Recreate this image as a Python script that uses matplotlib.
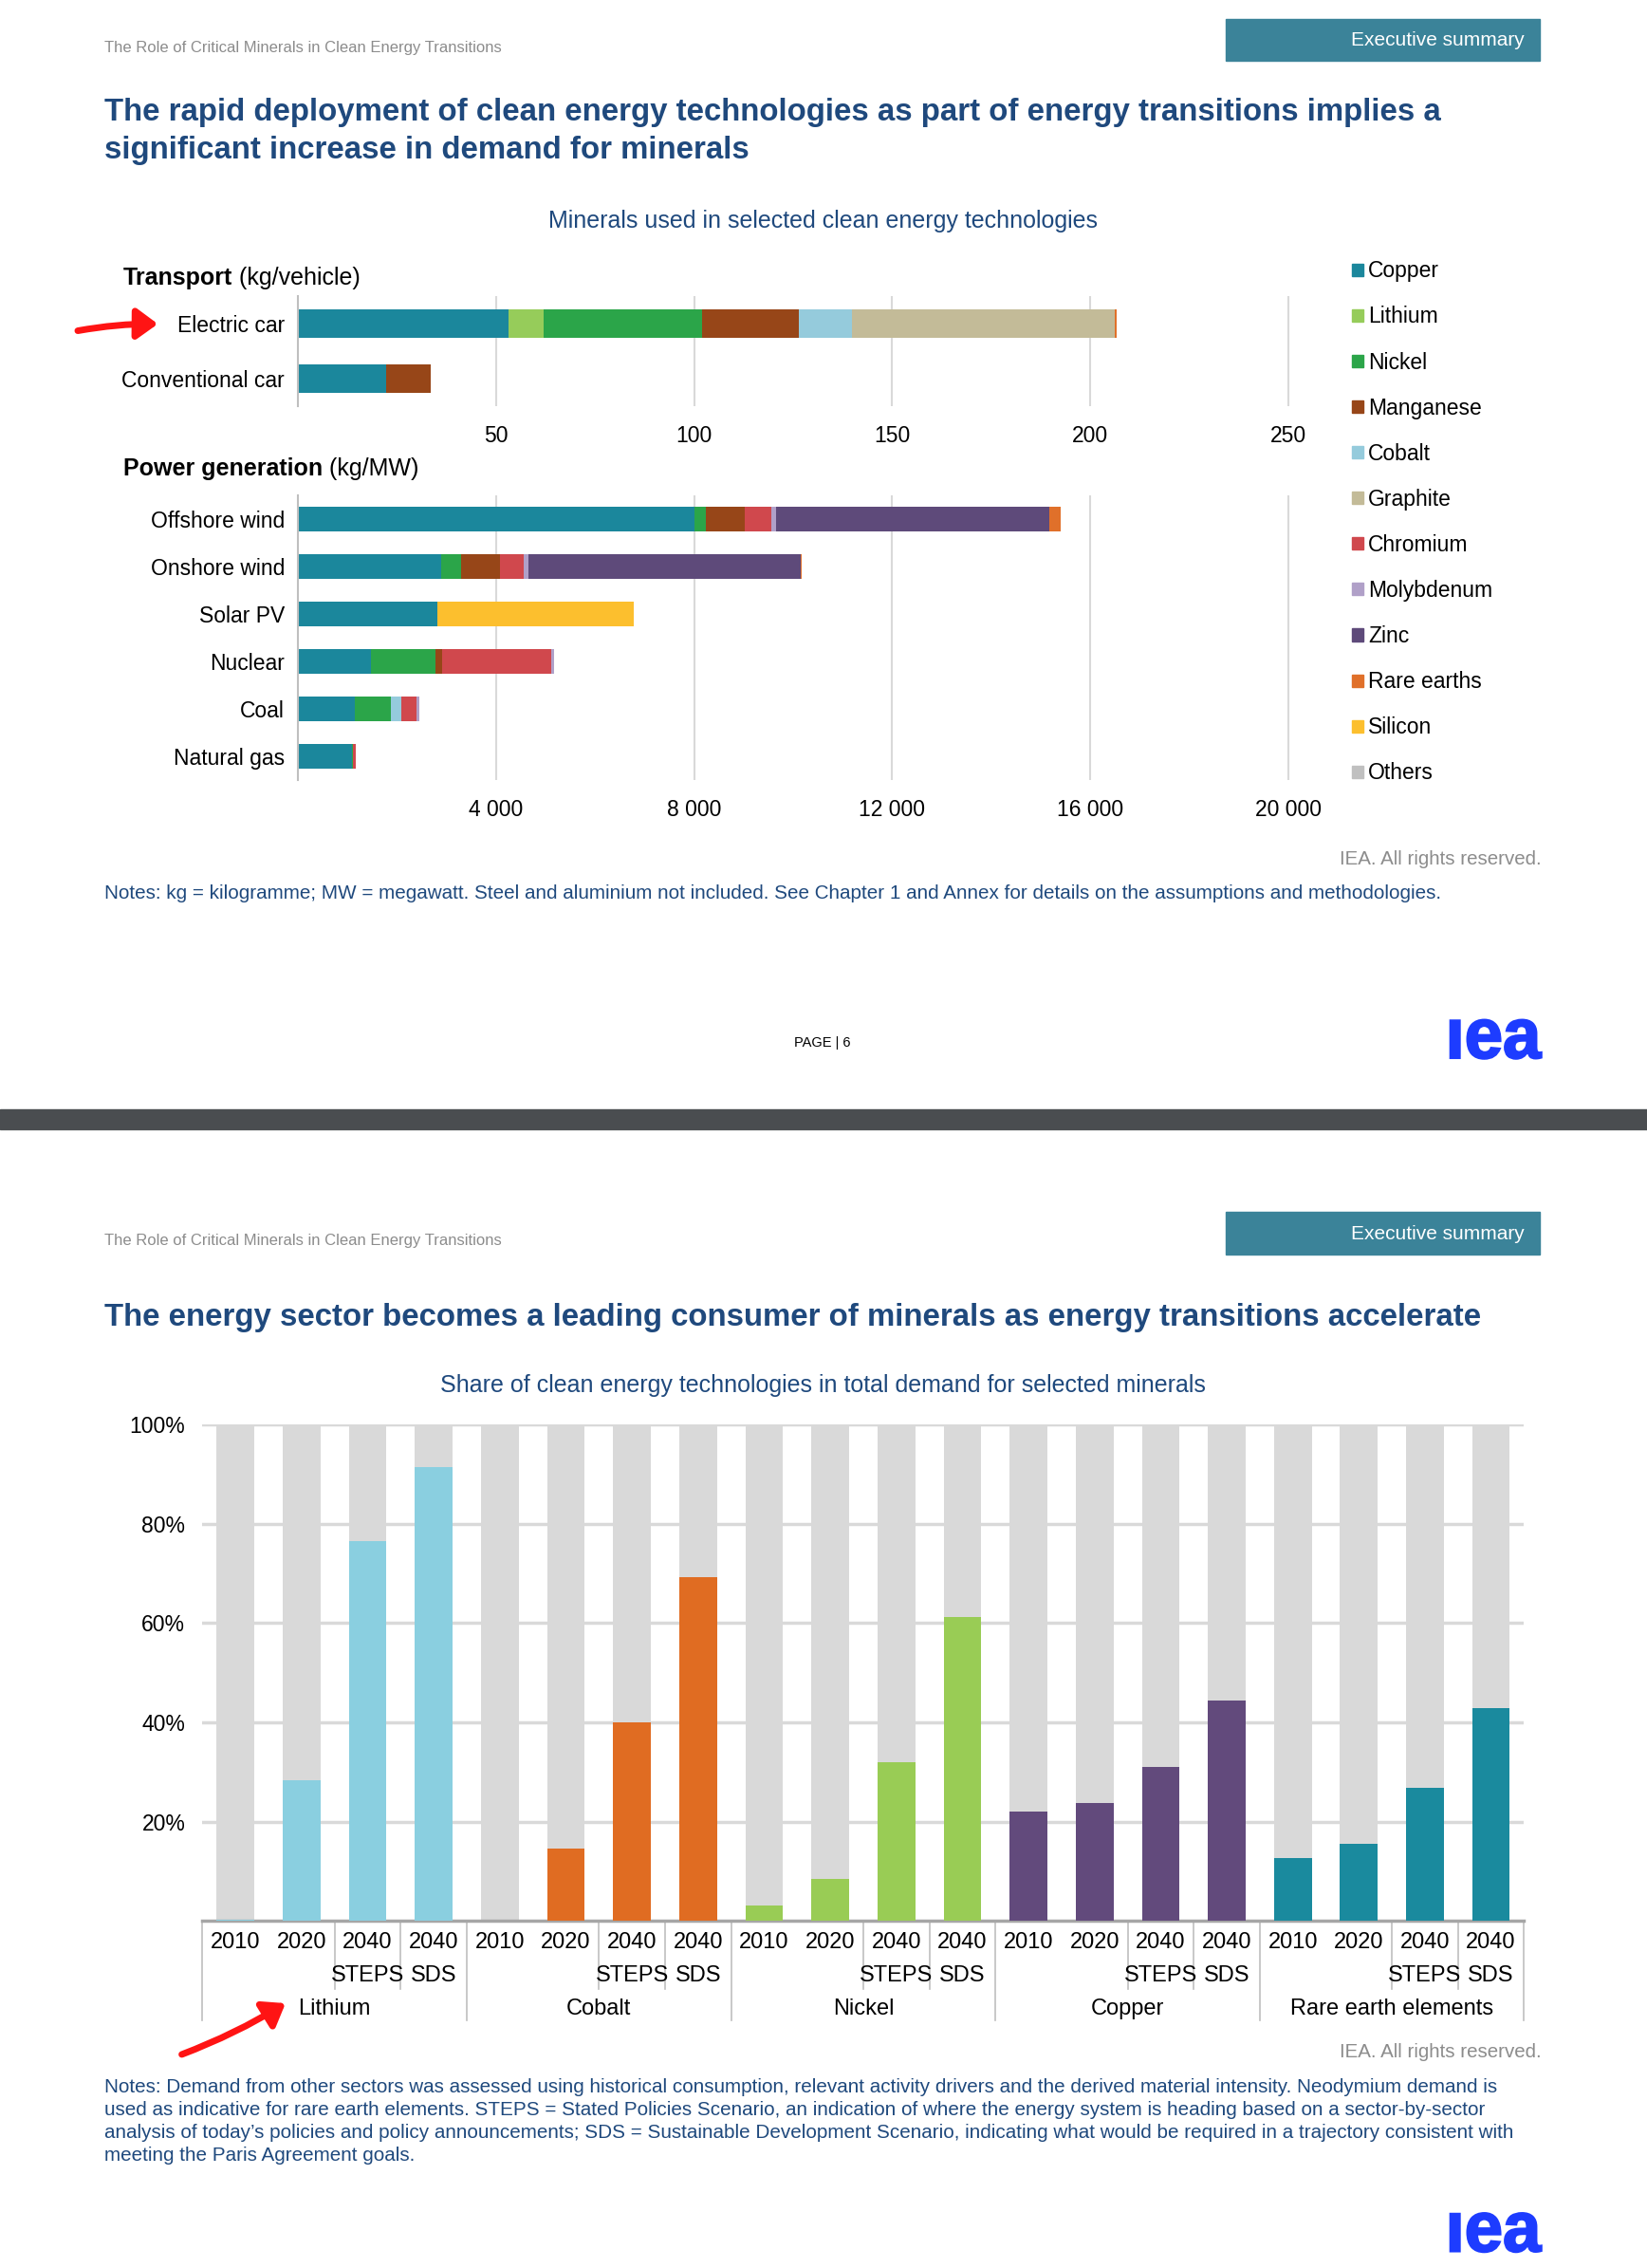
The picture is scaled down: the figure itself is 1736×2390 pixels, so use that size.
import matplotlib
matplotlib.use('Agg')
import matplotlib.pyplot as plt
import numpy as np
from matplotlib.patches import Rectangle, Patch, PathPatch
from matplotlib.ticker import FuncFormatter
from matplotlib.textpath import TextPath
from matplotlib.font_manager import FontProperties
from matplotlib.transforms import Affine2D, IdentityTransform

plt.rcParams['font.family'] = ['Liberation Sans', 'DejaVu Sans']

# layout is measured on the page screenshot (1139 x 1568 units)
W, H = 1139.0, 1568.0

## ---------------- data : page 1 ----------------
minerals = ['Copper', 'Lithium', 'Nickel', 'Manganese', 'Cobalt', 'Graphite',
            'Chromium', 'Molybdenum', 'Zinc', 'Rare earths', 'Silicon', 'Others']
mineral_colors = ['#1b879c', '#96cc5a', '#2ba549', '#974618', '#95cbdc', '#c3bb98',
                  '#d0484d', '#b0a0c8', '#5e4a7a', '#e0702a', '#fcbf2e', '#c0c0c0']

cars = ['Electric car', 'Conventional car']
electric_car = [53.2, 8.9, 39.9, 24.5, 13.3, 66.3, 0, 0, 0, 0.5, 0, 0]
conventional_car = [22.3, 0, 0, 11.2, 0, 0, 0, 0, 0, 0, 0, 0]

plants = ['Offshore wind', 'Onshore wind', 'Solar PV', 'Nuclear', 'Coal', 'Natural gas']
offshore_wind = [8000, 0, 240, 790, 0, 0, 525, 109, 5500, 239, 0, 0]
onshore_wind = [2900, 0, 404, 780, 0, 0, 470, 99, 5500, 14, 0, 0]
solar_pv = [2822, 0, 0, 0, 0, 0, 0, 0, 0, 0, 3955, 0]
nuclear = [1473, 0, 1297, 148, 0, 0, 2190, 70, 0, 0, 0, 0]
coal = [1150, 0, 721, 5, 210, 0, 308, 66, 0, 0, 0, 0]
natural_gas = [1100, 0, 16, 0, 0, 0, 48, 0, 0, 0, 0, 0]

car_ticks = [50, 100, 150, 200, 250]
plant_ticks = [4000, 8000, 12000, 16000, 20000]

## ---------------- data : page 2 ----------------
groups = ['Lithium', 'Cobalt', 'Nickel', 'Copper', 'Rare earth elements']
group_colors = ['#8acfe0', '#e06c22', '#99cc55', '#624a7c', '#1a8a9e']
periods = ['2010', '2020', '2040', '2040']
scenarios = ['', '', 'STEPS', 'SDS']
lithium_share = [0.3, 28.4, 76.5, 91.4]
cobalt_share = [0.0, 14.5, 40.1, 69.3]
nickel_share = [3.0, 8.5, 32.0, 61.3]
copper_share = [22.0, 23.7, 31.0, 44.4]
ree_share = [12.6, 15.5, 26.8, 42.8]
share_ticks = [20, 40, 60, 80, 100]

navy = '#1f497d'
grid_c = '#d9d9d9'

fig = plt.figure(figsize=(17.36, 23.90), dpi=100)
renderer = fig.canvas.get_renderer()
FW = fig.get_figwidth() * fig.dpi
FH = fig.get_figheight() * fig.dpi


def add_ax(x0, y0, x1, y1):
    return fig.add_axes([x0 / W, 1 - y1 / H, (x1 - x0) / W, (y1 - y0) / H])


def ftext(x, y, s, **kw):
    return fig.text(x / W, 1 - y / H, s, **kw)


def rect(x0, y0, x1, y1, color):
    fig.patches.append(Rectangle((x0 / W, 1 - y1 / H), (x1 - x0) / W, (y1 - y0) / H,
                                 transform=fig.transFigure, color=color, zorder=0))


def page_header(y_box, y_txt):
    ftext(72, y_txt, 'The Role of Critical Minerals in Clean Energy Transitions',
          fontsize=12, color='#8c8c8c', va='center')
    rect(848, y_box, 1065, y_box + 29, '#3b8399')
    ftext(1054, y_box + 15, 'Executive summary', fontsize=15, color='white',
          ha='right', va='center')


def iea_logo(x1, y0, y1):
    tp = TextPath((0, 0), '\u0131ea', size=1,
                  prop=FontProperties(family='Liberation Sans', weight='bold'))
    ext = tp.get_extents()
    hpx = (y1 - y0) / H * FH
    wpx = 63 / W * FW
    sx = wpx / ext.width
    sy = hpx / ext.height
    tx = x1 / W * FW - wpx - ext.x0 * sx
    ty = (1 - y1 / H) * FH - ext.y0 * sy
    tr = Affine2D().scale(sx, sy).translate(tx, ty)
    fig.patches.append(PathPatch(tr.transform_path(tp), transform=IdentityTransform(),
                                 color='#1d3cff', lw=1.5))


def two_part(x, y, bold, normal, size=18):
    t = ftext(x, y, bold, fontsize=size, fontweight='bold', va='center')
    bb = t.get_window_extent(renderer)
    fig.text(bb.x1 / FW, 1 - y / H, normal, fontsize=size, va='center')


def hbar_stack(ax, rows, labels, colors):
    data = np.array(rows, dtype=float)
    pos = np.arange(len(labels))
    left = np.zeros(len(labels))
    for i in range(data.shape[1]):
        ax.barh(pos, data[:, i], left=left, height=0.52, color=colors[i], zorder=3)
        left += data[:, i]
    ax.set_yticks(pos)
    ax.set_yticklabels(labels)
    ax.set_ylim(len(labels) - 0.5, -0.5)
    for s in ['top', 'right', 'bottom']:
        ax.spines[s].set_visible(False)
    ax.spines['left'].set_color('#bfbfbf')
    ax.spines['left'].set_linewidth(1.5)
    ax.spines['left'].set_zorder(4)
    ax.grid(axis='x', color=grid_c, lw=1.5, zorder=0)
    ax.set_axisbelow(True)
    ax.tick_params(length=0, labelsize=16.5)
    ax.tick_params(axis='y', pad=10)
    ax.tick_params(axis='x', pad=14)


## ================= page 1 =================
page_header(13, 33)
ftext(72, 78, 'The rapid deployment of clean energy technologies as part of energy transitions implies a',
      fontsize=23.8, fontweight='bold', color=navy, va='center')
ftext(72, 104, 'significant increase in demand for minerals',
      fontsize=23.8, fontweight='bold', color=navy, va='center')
ftext(569, 153, 'Minerals used in selected clean energy technologies',
      fontsize=18, color=navy, ha='center', va='center')

two_part(85, 192, 'Transport', ' (kg/vehicle)')
two_part(85, 324, 'Power generation', ' (kg/MW)')

ax_t = add_ax(206, 205, 904.7, 281)
hbar_stack(ax_t, [electric_car, conventional_car], cars, mineral_colors)
ax_t.set_xlim(0, 255)
ax_t.set_xticks(car_ticks)

ax_p = add_ax(206, 342.6, 904.7, 539.4)
hbar_stack(ax_p, [offshore_wind, onshore_wind, solar_pv, nuclear, coal, natural_gas],
           plants, mineral_colors)
ax_p.set_xlim(0, 20400)
ax_p.set_xticks(plant_ticks)
ax_p.xaxis.set_major_formatter(FuncFormatter(lambda v, p: '{:,.0f}'.format(v).replace(',', ' ')))

handles = [Patch(color=c) for c in mineral_colors]
fig.legend(handles, minerals, loc='upper left', bbox_to_anchor=(935 / W, 1 - 180 / H),
           frameon=False, fontsize=16.5, handlelength=0.5, handleheight=0.5,
           handletextpad=0.25, labelspacing=1.095, borderpad=0, borderaxespad=0)

ftext(1066, 594, 'IEA. All rights reserved.', fontsize=14.8, color='#8c8c8c',
      ha='right', va='center')
ftext(72, 618, 'Notes: kg = kilogramme; MW = megawatt. Steel and aluminium not included. '
      'See Chapter 1 and Annex for details on the assumptions and methodologies.',
      fontsize=14.9, color=navy, va='center')
ftext(569, 721, 'PAGE | 6', fontsize=10.5, color='black', ha='center', va='center')
iea_logo(1066, 705, 732)

# hand drawn arrow next to the electric car
fig.add_artist(matplotlib.patches.FancyArrowPatch(
    (52 / W, 1 - 229 / H), (111 / W, 1 - 224 / H), transform=fig.transFigure,
    arrowstyle='-|>,head_width=0.8,head_length=1.1', mutation_scale=12,
    color='#ff1414', lw=5, connectionstyle='arc3,rad=-0.05'))

# page break band
rect(0, 767, W, 781, '#4a4d50')

## ================= page 2 =================
page_header(838, 858)
ftext(72, 911, 'The energy sector becomes a leading consumer of minerals as energy transitions accelerate',
      fontsize=23.8, fontweight='bold', color=navy, va='center')
ftext(569, 958, 'Share of clean energy technologies in total demand for selected minerals',
      fontsize=18, color=navy, ha='center', va='center')

shares = [lithium_share, cobalt_share, nickel_share, copper_share, ree_share]
ax_s = add_ax(140, 985, 1054, 1328)
ax_s.set_xlim(-0.5, len(groups) * len(periods) - 0.5)
ax_s.set_ylim(0, 100)
for g, vals in enumerate(shares):
    xs = np.arange(len(vals)) + g * len(periods)
    ax_s.bar(xs, [100] * len(vals), width=0.57, color=grid_c, zorder=2)
    ax_s.bar(xs, vals, width=0.57, color=group_colors[g], zorder=3)
ax_s.set_yticks(share_ticks)
ax_s.set_yticklabels(['{}%'.format(v) for v in share_ticks])
ax_s.set_xticks([])
ax_s.grid(axis='y', color=grid_c, lw=2.5, zorder=0)
ax_s.set_axisbelow(True)
for s in ['top', 'right', 'left']:
    ax_s.spines[s].set_visible(False)
ax_s.spines['bottom'].set_color('#a6a6a6')
ax_s.spines['bottom'].set_linewidth(2.5)
ax_s.tick_params(length=0, labelsize=16.5, pad=13)

# multi level category axis
ah = 1328 - 985.0
xtr = ax_s.get_xaxis_transform()
for g, name in enumerate(groups):
    for k in range(len(periods)):
        x = g * len(periods) + k
        ax_s.text(x, -(1343 - 1328) / ah, periods[k], transform=xtr, fontsize=17,
                  ha='center', va='center')
        if scenarios[k]:
            ax_s.text(x, -(1366 - 1328) / ah, scenarios[k], transform=xtr, fontsize=17,
                      ha='center', va='center')
    ax_s.text(g * len(periods) + 1.5, -(1389 - 1328) / ah, name, transform=xtr,
              fontsize=17, ha='center', va='center')
    x0 = g * len(periods) - 0.5
    ax_s.plot([x0, x0], [0, -(1397 - 1328) / ah], transform=xtr, clip_on=False,
              color='#bfbfbf', lw=1.2)
    for k in [2, 3]:
        xi = g * len(periods) + k - 0.5
        ax_s.plot([xi, xi], [0, -(1375 - 1328) / ah], transform=xtr, clip_on=False,
                  color='#bfbfbf', lw=1.2)
xe = len(groups) * len(periods) - 0.5
ax_s.plot([xe, xe], [0, -(1397 - 1328) / ah], transform=xtr, clip_on=False,
          color='#bfbfbf', lw=1.2)

fig.add_artist(matplotlib.patches.FancyArrowPatch(
    (124 / W, 1 - 1421 / H), (199 / W, 1 - 1384 / H), transform=fig.transFigure,
    arrowstyle='-|>,head_width=0.8,head_length=1.1', mutation_scale=12,
    color='#ff1414', lw=5, connectionstyle='arc3,rad=0.05'))

ftext(1066, 1419, 'IEA. All rights reserved.', fontsize=14.8, color='#8c8c8c',
      ha='right', va='center')
notes2 = ['Notes: Demand from other sectors was assessed using historical consumption, relevant activity drivers and the derived material intensity. Neodymium demand is',
          'used as indicative for rare earth elements. STEPS = Stated Policies Scenario, an indication of where the energy system is heading based on a sector-by-sector',
          'analysis of today\u2019s policies and policy announcements; SDS = Sustainable Development Scenario, indicating what would be required in a trajectory consistent with',
          'meeting the Paris Agreement goals.']
for i, line in enumerate(notes2):
    ftext(72, 1443 + i * 15.7, line, fontsize=14.9, color=navy, va='center')
iea_logo(1066, 1530, 1557)

fig.savefig('out.png', dpi=100)
